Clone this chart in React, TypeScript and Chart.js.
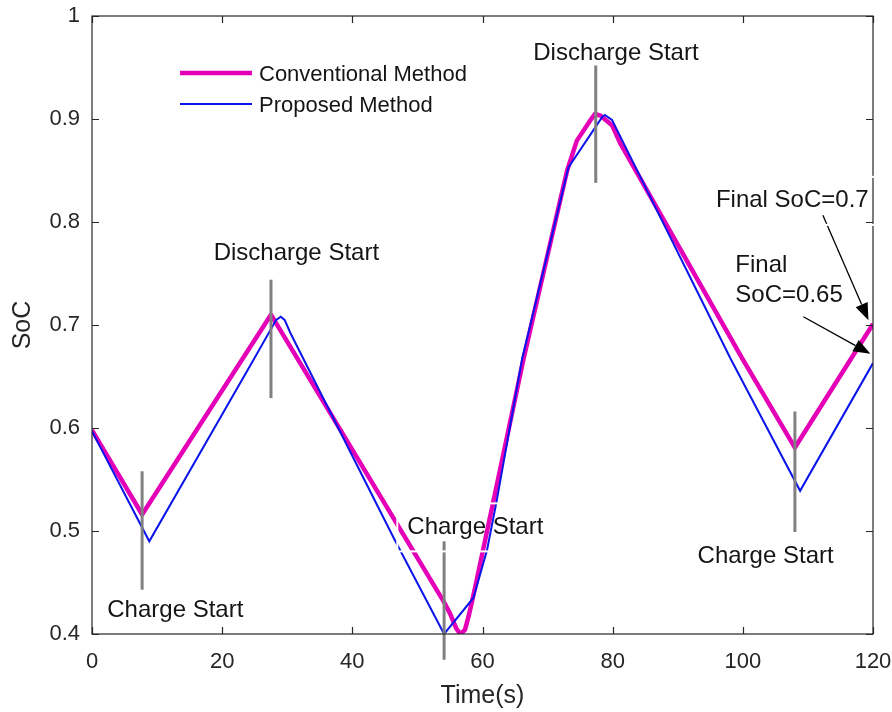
import React, { useEffect, useRef } from "react";
import { Chart, registerables } from "chart.js";

Chart.register(...registerables);

// ---- Data ----
const conventionalTime = [0, 7.7, 27.5, 54.0, 55.0, 56.0, 56.6, 57.3, 57.9, 58.9, 66.3, 73.0, 74.5, 76.6, 77.3, 78.2, 79.9, 81.2, 99.9, 108.0, 120];
const conventionalSoC = [0.598, 0.516, 0.710, 0.432, 0.420, 0.405, 0.400, 0.404, 0.418, 0.446, 0.667, 0.850, 0.879, 0.899, 0.905, 0.903, 0.894, 0.876, 0.6675, 0.581, 0.701];

const proposedTime = [0, 8.8, 24.8, 28.3, 29.0, 29.6, 30.5, 46.3, 54.1, 58.6, 60.7, 62.2, 66.1, 73.2, 78.4, 78.8, 79.9, 80.7, 98.1, 108.8, 120];
const proposedSoC = [0.597, 0.490, 0.666, 0.705, 0.708, 0.705, 0.692, 0.494, 0.400, 0.435, 0.4815, 0.530, 0.6675, 0.853, 0.902, 0.904, 0.899, 0.889, 0.6675, 0.539, 0.663];

const markerTime = [7.7, 27.5, 54.1, 77.4, 108.0];
const markerLow = [0.443, 0.629, 0.375, 0.838, 0.499];
const markerHigh = [0.558, 0.744, 0.490, 0.952, 0.616];

const xTickValues = [0, 20, 40, 60, 80, 100, 120];
const yTickValues = [0.4, 0.5, 0.6, 0.7, 0.8, 0.9, 1.0];

const legendLabels = ["Conventional Method", "Proposed Method"];

const noteTexts = ["Discharge Start", "Discharge Start", "Charge Start", "Charge Start", "Charge Start", "Final SoC=0.7", "Final", "SoC=0.65"];
const noteTime = [31.4, 80.5, 12.8, 58.9, 103.5, 107.6, 98.85, 98.85];
const noteSoC = [0.770, 0.9635, 0.4226, 0.504, 0.475, 0.821, 0.758, 0.729];
const noteAlign = ["center", "center", "center", "center", "center", "center", "left", "left"];
const noteWhiteEdge = [false, false, false, true, false, true, false, false];

const arrowFromTime = [112.3, 109.3];
const arrowFromSoC = [0.8066, 0.708];
const arrowToTime = [119.3, 119.6];
const arrowToSoC = [0.7047, 0.672];

// ---- Styles ----
const FONT = '"Liberation Sans", Arial, Helvetica, sans-serif';
const MAGENTA = "rgb(228, 0, 182)";
const BLUE = "rgb(10, 20, 235)";
const GRAY = "rgb(128, 128, 128)";
const AXIS = "#262626";

const toPoints = (xs: number[], ys: number[]) => xs.map((x, i) => ({ x, y: ys[i] }));

const decorPlugin = {
  id: "matlabDecor",
  afterDatasetsDraw(chart: any) {
    const { ctx, chartArea, scales } = chart;
    const xs = scales.x;
    const ys = scales.y;
    const { left, right, top, bottom } = chartArea;
    ctx.save();

    // annotation texts
    ctx.font = `24px ${FONT}`;
    ctx.fillStyle = "#151515";
    ctx.textBaseline = "middle";
    const boxes: number[][] = [];
    noteTexts.forEach((t, i) => {
      const px = xs.getPixelForValue(noteTime[i]);
      const py = ys.getPixelForValue(noteSoC[i]);
      ctx.textAlign = noteAlign[i] as CanvasTextAlign;
      ctx.fillText(t, px, py);
      if (noteWhiteEdge[i]) {
        const w = ctx.measureText(t).width;
        const x0 = noteAlign[i] === "center" ? px - w / 2 : px;
        boxes.push([x0 - 10, py - 23.5, w + 20, 48]);
      }
    });

    // arrows
    ctx.strokeStyle = "#000";
    ctx.fillStyle = "#000";
    ctx.lineWidth = 1.3;
    arrowFromTime.forEach((_, i) => {
      const x1 = xs.getPixelForValue(arrowFromTime[i]);
      const y1 = ys.getPixelForValue(arrowFromSoC[i]);
      const x2 = xs.getPixelForValue(arrowToTime[i]);
      const y2 = ys.getPixelForValue(arrowToSoC[i]);
      const ang = Math.atan2(y2 - y1, x2 - x1);
      const L = 17;
      const W = 6.5;
      const bx = x2 - L * Math.cos(ang);
      const by = y2 - L * Math.sin(ang);
      ctx.beginPath();
      ctx.moveTo(x1, y1);
      ctx.lineTo(bx, by);
      ctx.stroke();
      ctx.beginPath();
      ctx.moveTo(x2, y2);
      ctx.lineTo(bx + W * Math.sin(ang), by - W * Math.cos(ang));
      ctx.lineTo(bx - W * Math.sin(ang), by + W * Math.cos(ang));
      ctx.closePath();
      ctx.fill();
    });

    // axes box with inward ticks
    ctx.strokeStyle = AXIS;
    ctx.lineWidth = 1.2;
    ctx.strokeRect(left, top, right - left, bottom - top);
    const tl = 7;
    ctx.beginPath();
    xTickValues.forEach((v) => {
      const px = Math.round(xs.getPixelForValue(v)) + 0.5;
      ctx.moveTo(px, bottom);
      ctx.lineTo(px, bottom - tl);
      ctx.moveTo(px, top);
      ctx.lineTo(px, top + tl);
    });
    yTickValues.forEach((v) => {
      const py = Math.round(ys.getPixelForValue(v)) + 0.5;
      ctx.moveTo(left, py);
      ctx.lineTo(left + tl, py);
      ctx.moveTo(right, py);
      ctx.lineTo(right - tl, py);
    });
    ctx.stroke();

    // white edges of the text boxes
    ctx.strokeStyle = "#fff";
    ctx.lineWidth = 2;
    boxes.forEach((b) => ctx.strokeRect(b[0], b[1], b[2], b[3]));

    // legend (no box)
    const lx0 = left + 88;
    const lx1 = left + 160;
    const rows = [
      { y: top + 57, color: MAGENTA, w: 4.5 },
      { y: top + 88, color: BLUE, w: 2 },
    ];
    ctx.font = `22px ${FONT}`;
    ctx.fillStyle = "#151515";
    ctx.textAlign = "left";
    ctx.textBaseline = "middle";
    rows.forEach((r, i) => {
      ctx.strokeStyle = r.color;
      ctx.lineWidth = r.w;
      ctx.beginPath();
      ctx.moveTo(lx0, r.y);
      ctx.lineTo(lx1, r.y);
      ctx.stroke();
      ctx.fillText(legendLabels[i], lx1 + 7, r.y + 2);
    });

    ctx.restore();
  },
};

export default function App() {
  const canvasRef = useRef<HTMLCanvasElement | null>(null);

  useEffect(() => {
    document.body.style.margin = "0";
    const canvas = canvasRef.current;
    if (!canvas) return;

    const markerSets = markerTime.map((t, i) => ({
      label: `marker${i}`,
      data: [
        { x: t, y: markerLow[i] },
        { x: t, y: markerHigh[i] },
      ],
      borderColor: GRAY,
      borderWidth: 3,
      pointRadius: 0,
      clip: false as any,
      order: 0,
    }));

    const chart = new Chart(canvas, {
      type: "line",
      data: {
        datasets: [
          ...markerSets,
          {
            label: legendLabels[1],
            data: toPoints(proposedTime, proposedSoC),
            borderColor: BLUE,
            borderWidth: 2,
            pointRadius: 0,
            tension: 0,
            order: 1,
          },
          {
            label: legendLabels[0],
            data: toPoints(conventionalTime, conventionalSoC),
            borderColor: MAGENTA,
            borderWidth: 4.5,
            pointRadius: 0,
            tension: 0,
            borderJoinStyle: "round",
            order: 2,
          },
        ],
      },
      options: {
        responsive: false,
        animation: false,
        devicePixelRatio: 1,
        layout: { padding: { top: 16, right: 19, left: 0, bottom: 0 } },
        plugins: {
          legend: { display: false },
          tooltip: { enabled: false },
        },
        scales: {
          x: {
            type: "linear",
            min: 0,
            max: 120,
            afterFit: (s: any) => {
              s.height = 78;
              s.paddingLeft = 0;
              s.paddingRight = 0;
            },
            afterBuildTicks: (s: any) => {
              s.ticks = xTickValues.map((v) => ({ value: v }));
            },
            ticks: {
              font: { family: FONT, size: 22 },
              color: AXIS,
              padding: 15,
              maxRotation: 0,
              callback: (v: any) => String(v),
            },
            grid: { display: false, drawTicks: false },
            border: { display: false },
            title: {
              display: true,
              text: "Time(s)",
              font: { family: FONT, size: 25 },
              color: AXIS,
              padding: { top: 0, bottom: 1 },
            },
          },
          y: {
            type: "linear",
            min: 0.4,
            max: 1,
            afterFit: (s: any) => {
              s.width = 92;
              s.paddingTop = 0;
              s.paddingBottom = 0;
            },
            afterBuildTicks: (s: any) => {
              s.ticks = yTickValues.map((v) => ({ value: v }));
            },
            ticks: {
              font: { family: FONT, size: 22 },
              color: AXIS,
              padding: 12,
              callback: (v: any) => String(Math.round(Number(v) * 10) / 10),
            },
            grid: { display: false, drawTicks: false },
            border: { display: false },
            title: {
              display: true,
              text: "SoC",
              font: { family: FONT, size: 25 },
              color: AXIS,
              padding: { top: 8, bottom: 0 },
            },
          },
        },
      },
      plugins: [decorPlugin],
    });

    return () => chart.destroy();
  }, []);

  return (
    <div style={{ width: 892, height: 712, background: "#fff" }}>
      <canvas ref={canvasRef} width={892} height={712} style={{ display: "block" }} />
    </div>
  );
}
